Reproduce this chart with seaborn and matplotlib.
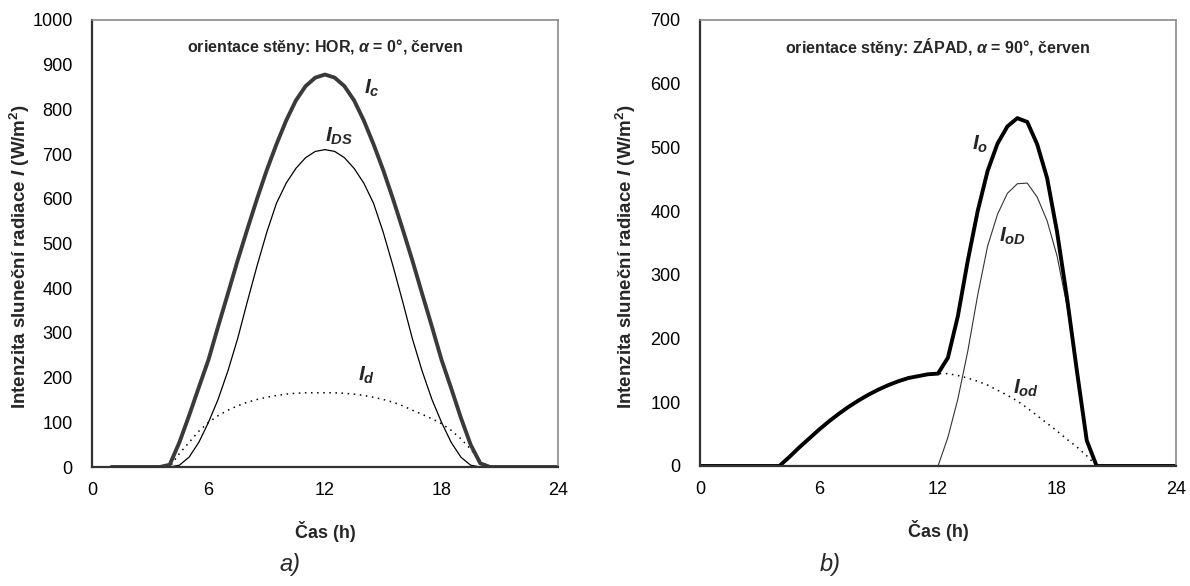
import numpy as np
import pandas as pd
import matplotlib
matplotlib.use("Agg")
import matplotlib.pyplot as plt
import seaborn as sns

# ---- data ----
hours_a = np.arange(1.0, 24.01, 0.5)
Ic = [0, 0, 0, 0, 0, 0,
      5, 55, 115, 178, 240, 315, 388, 462, 532, 600, 664, 722, 775, 820, 852, 871, 878,
      871, 852, 820, 775, 722, 664, 600, 532, 462, 388, 315, 240, 176, 110, 50, 8,
      0, 0, 0, 0, 0, 0, 0, 0]
IDS = [0, 0, 0, 0, 0, 0,
       0, 4, 22, 55, 100, 152, 215, 287, 370, 450, 525, 590, 635, 668, 692, 706, 710,
       706, 692, 668, 635, 590, 525, 450, 370, 287, 215, 152, 100, 55, 22, 4, 0,
       0, 0, 0, 0, 0, 0, 0, 0]
Id = [0, 0, 0, 0, 0, 0,
      0, 30, 55, 80, 100, 115, 127, 137, 145, 151, 156, 160, 163, 165, 166, 166, 166,
      166, 165, 163, 160, 156, 151, 145, 137, 127, 118, 108, 97, 82, 63, 40, 12,
      0, 0, 0, 0, 0, 0, 0, 0]

hours_b = np.arange(0.0, 24.01, 0.5)
Io = [0, 0, 0, 0, 0, 0, 0, 0,
      0, 14, 29, 43, 57, 70, 82, 93, 103, 112, 120, 127, 133, 138, 141, 144, 145,
      170, 235, 322, 400, 463, 506, 533, 546, 540, 505, 452, 368, 265, 150, 40, 0,
      0, 0, 0, 0, 0, 0, 0, 0]
IoD = [0] * 24 + [0, 45, 105, 180, 268, 345, 395, 428, 443, 444, 422, 385, 330, 252, 150, 42, 0,
                  0, 0, 0, 0, 0, 0, 0, 0]
Iod = [0, 0, 0, 0, 0, 0, 0, 0,
       0, 14, 29, 43, 57, 70, 82, 93, 103, 112, 120, 127, 133, 138, 141, 144,
       145, 145, 142, 138, 133, 127, 119, 111, 102, 91, 79, 67, 55, 42, 30, 16, 0,
       0, 0, 0, 0, 0, 0, 0, 0]

sns.set_style("white")
plt.rcParams['font.family'] = ['Liberation Sans Narrow', 'Liberation Sans', 'DejaVu Sans']
plt.rcParams['mathtext.fontset'] = 'custom'
plt.rcParams['mathtext.it'] = 'Liberation Sans:italic:bold'
plt.rcParams['mathtext.rm'] = 'Liberation Sans:bold'
plt.rcParams['mathtext.bf'] = 'Liberation Sans:bold'
plt.rcParams['lines.solid_joinstyle'] = 'round'

df_a = pd.DataFrame({'h': hours_a, 'Ic': Ic, 'IDS': IDS, 'Id': Id})
df_b = pd.DataFrame({'h': hours_b, 'Io': Io, 'IoD': IoD, 'Iod': Iod})

W, H = 1190, 586
fig = plt.figure(figsize=(11.9, 5.86), dpi=100)
ax1 = fig.add_axes([92 / W, 1 - 467 / H, (558 - 92) / W, (467 - 20) / H])
ax2 = fig.add_axes([700 / W, 1 - 466 / H, (1176 - 700) / W, (466 - 20) / H])

dot = (0, (1.0, 3.0))
sns.lineplot(data=df_a, x='h', y='Id', ax=ax1, color='black', lw=1.1, linestyle=dot)
sns.lineplot(data=df_a, x='h', y='IDS', ax=ax1, color='black', lw=0.9)
sns.lineplot(data=df_a, x='h', y='Ic', ax=ax1, color='#3a3a3a', lw=2.8)

sns.lineplot(data=df_b, x='h', y='Iod', ax=ax2, color='black', lw=1.1, linestyle=dot)
sns.lineplot(data=df_b, x='h', y='IoD', ax=ax2, color='#333333', lw=0.8)
sns.lineplot(data=df_b, x='h', y='Io', ax=ax2, color='black', lw=2.8)

for ax, ymax in ((ax1, 1000), (ax2, 700)):
    ax.set_xlim(0, 24)
    ax.set_ylim(0, ymax)
    ax.set_xticks([0, 6, 12, 18, 24])
    ax.set_yticks(np.arange(0, ymax + 1, 100))
    ax.tick_params(axis='both', direction='out', length=5, width=1, colors='#333333',
                   labelsize=13, labelcolor='black')
    ax.tick_params(axis='y', pad=9)
    ax.tick_params(axis='x', pad=6)
    for s in ('left', 'bottom'):
        ax.spines[s].set_color('#333333')
        ax.spines[s].set_linewidth(1.6)
    for s in ('top', 'right'):
        ax.spines[s].set_color('#8a8a8a')
        ax.spines[s].set_linewidth(1.2)
    ax.set_xlabel('Čas (h)', fontsize=13, fontweight='bold')
    ax.set_ylabel('Intenzita sluneční radiace $I$ (W/m$^2$)', fontsize=13.5, fontweight='bold')
    ax.xaxis.set_label_coords(0.5, -0.12)

ax1.yaxis.set_label_coords(-0.128, 0.47)
ax2.yaxis.set_label_coords(-0.13, 0.47)

ax1.text(0.5, 0.94, r'orientace stěny: HOR, $\alpha$ = 0°, červen', transform=ax1.transAxes,
         ha='center', va='center', fontsize=11.5, fontweight='bold')
ax2.text(0.5, 0.94, r'orientace stěny: ZÁPAD, $\alpha$ = 90°, červen', transform=ax2.transAxes,
         ha='center', va='center', fontsize=11.5, fontweight='bold')

lab = dict(fontsize=15, ha='left', va='center')
ax1.text(14.0, 848, r'$I_c$', **lab)
ax1.text(12.0, 740, r'$I_{DS}$', **lab)
ax1.text(13.7, 205, r'$I_d$', **lab)
ax2.text(13.7, 505, r'$I_o$', **lab)
ax2.text(15.1, 360, r'$I_{oD}$', **lab)
ax2.text(15.8, 122, r'$I_{od}$', **lab)

fig.text(290 / W, 1 - 565 / H, 'a)', fontsize=17, style='italic', ha='center', va='center')
fig.text(830 / W, 1 - 565 / H, 'b)', fontsize=17, style='italic', ha='center', va='center')

fig.savefig('out.png', dpi=100)
